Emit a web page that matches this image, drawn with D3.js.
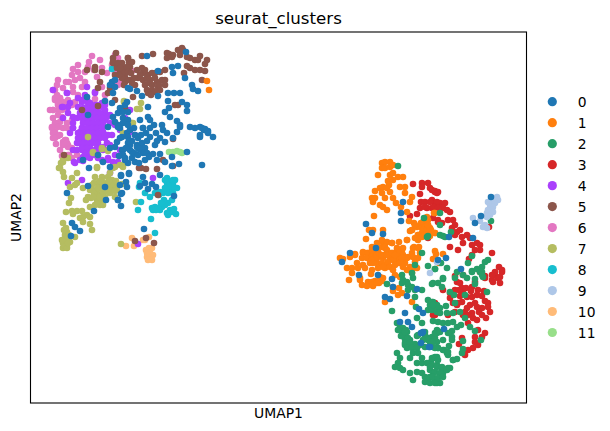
<!DOCTYPE html>
<html>
<head>
<meta charset="utf-8">
<script src="https://cdn.jsdelivr.net/npm/d3@7"></script>
<style>html,body{margin:0;padding:0;background:#fff}svg{display:block}</style>
</head>
<body>
<div id="chart"></div>
<script>
const categories = ["0","1","2","3","4","5","6","7","8","9","10","11"];
const colors = ["#1f77b4","#ff7f0e","#279e68","#d62728","#aa40fc","#8c564b","#e377c2","#b5bd61","#17becf","#aec7e8","#ffbb78","#98df8a"];
const title = "seurat_clusters";
const xLabel = "UMAP1";
const yLabel = "UMAP2";

const cluster0 = [[77,276],[91,266],[96,270],[104,268],[86,261],[97,260],[106,258],[79,255],[91,253],[99,253],[109,255],[67,248],[72,241],[52,243],[94,245],[101,245],[58,235],[79,236],[98,230],[90,227],[95,221],[96,216],[57,217],[74,216],[91,210],[36,210],[75,203],[87,203],[90,197],[63,192],[41,180],[44,176],[49,172],[40,167],
[89,275],[99,273],[112,275],[119,275],[132,273],[146,271],[159,276],[169,276],[174,273],[169,266],[177,270],[89,265],[97,266],[107,265],[119,266],[129,265],[134,261],[142,265],[124,258],[84,256],[99,258],[111,260],[114,255],[92,253],[101,251],[112,250],[122,249],[129,249],[141,246],[156,251],[94,243],[104,241],[114,243],[126,243],[134,241],[141,237],[148,239],[171,238],[98,229],[90,228],[112,226],[129,228],[114,220],[121,219],[109,217],[89,218],[90,209],[87,203],[117,214],[125,216],[143,207],[113,174],
[116,347],[155,351],[141,336],[147,337],[142,330],[154,325],[127,332],[99,314],[106,312],[161,318],[162,314],[167,312],[127,307],[137,310],[143,310],[149,310],[151,301],[111,307],[117,296],[137,302],[138,295],[156,298],[156,292],[134,291],[139,286],[117,286],[119,283],[109,283],[146,282],[149,278],[131,278],[123,278],[112,275],[94,298],[89,295],[92,285],[87,278],[82,286],[149,276],[174,274],[171,275],[164,275],[173,273],[169,268],[177,272],[182,266],
[81,321],[84,323],[79,318],[84,316],[97,315],[82,310],[74,302],[81,300],[56,306],[96,301],[92,291],[97,291],[57,288],[87,290],[97,283],[92,280],[84,281],[87,276],[97,278],
[95,255],[103,250],[107,248],[116,250],[108,240],[118,246],[106,256],[116,262],[101,262],[92,248],[88,247],[97,240],[108,254],[110,268],[115,270],[125,270],[103,275],[98,262],[126,262],[136,270],
[372,201],[370,190],[370,182],[335,179],[341,170],[352,169],[345,155],[319,150],[460,206],[450,187],[444,180],[442,165],[418,166],[415,145],[407,143],[430,134],[311,141],[328,128],[347,128],[361,124],[362,116],[354,106],[359,104],[376,107],[386,114],[374,90],[388,94],[392,90],[369,81],[377,81],[381,76],[391,70],[399,56],[413,74],[390,70],[392,71],[390,60],[398,56]];

const cluster1 = [[351,240],[354,241],[359,241],[351,235],[354,235],[359,236],[362,238],[359,228],[362,230],[367,226],[357,222],[362,223],[347,228],[372,226],[358,218],[369,216],[374,216],[344,212],[349,215],[352,216],[356,215],[359,211],[374,210],[341,205],[344,205],[351,210],[354,205],[362,205],[381,206],[379,201],[342,201],[349,198],[352,196],[356,193],[365,200],[370,196],[376,191],[343,187],[386,176],[390,180],[392,181],[383,180],[378,182],[338,173],[342,173],[352,173],[335,164],[381,173],[379,172],[391,175],[394,176],[397,178],[387,168],[391,170],[396,171],[399,170],[387,163],[404,170],[352,161],[356,161],[361,160],[368,161],[376,163],[341,156],[351,156],[354,155],[383,156],[388,156],[332,150],[336,150],[347,151],[356,151],[366,153],[371,153],[381,150],[324,149],[397,183],[404,190],
[309,145],[312,144],[319,146],[324,148],[332,151],[337,150],[342,151],[347,151],[354,148],[361,150],[366,151],[371,150],[377,146],[382,146],[387,145],[331,145],[336,145],[341,146],[346,145],[352,145],[359,145],[366,145],[372,143],[326,140],[332,138],[339,140],[346,140],[351,138],[357,140],[367,140],[374,140],[316,135],[321,135],[327,135],[334,135],[341,133],[347,135],[354,135],[381,133],[386,135],[321,130],[340,129],[349,126],[329,125],[352,125],[318,123],[329,123],[344,122],[351,122],[337,121],[341,120],[331,118],[336,117],[342,117],[348,120],[362,116],[368,115],[367,108],[371,110],[362,112],[354,101],[381,101],
[403,190],[404,170],[400,173],[404,152],[405,149],[412,149],[402,144],[408,140],[399,167],[404,95],[176,322],[178,313],
[396,186],[392,173],[396,173],[399,175],[397,178],[387,168],[384,165],[391,166],[394,168],[381,173],[384,178],[376,163],[361,160],[354,160],[346,160],[351,163],[354,156],[356,153],[347,151],[342,148],[346,148],[351,148],[356,148],[361,150],[366,155],[369,151],[372,148],[367,146],[376,145],[362,143],[357,141],[351,140],[352,136],[359,136],[364,138],[369,140],[362,133],[364,128],[369,126],[382,155],[387,155],[389,150],[384,141],[379,136],[376,133],[381,130],[372,136],[341,121],[342,118],[346,120],[341,153],[344,145],[341,143],[342,140],[372,155],[364,148],[371,145]];

const cluster2 = [[391,150],[384,138],[397,137],[404,134],[381,130],[382,125],[356,119],[371,128],[372,123],[376,121],[377,118],[371,120],[381,116],[377,113],[384,113],[391,113],[384,106],[402,120],[401,119],[407,120],[397,103],[402,101],[399,98],[406,98],[397,93],[401,93],[406,91],[409,95],[361,92],[385,96],[386,85],[391,80],[366,80],[369,76],[372,75],[371,71],[376,71],[367,73],[374,67],[370,67],[374,64],[379,63],[377,60],[374,58],[381,58],[386,67],[384,59],[394,71],[397,65],[394,68],[401,65],[406,71],[406,61],[394,56],[399,61],[407,55],[389,58],[402,56],
[412,124],[411,116],[419,111],[415,97],[406,97],[401,101],[401,95],[402,98],[409,90],[416,90],[422,90],[429,91],[434,85],[439,76],[444,72],[402,82],[407,81],[412,80],[417,80],[422,81],[426,76],[430,78],[421,72],[421,66],[406,73],[406,70],[401,66],[404,65],[450,63],[432,62],[432,54],[431,50],[422,43],[426,44],[418,57],[413,53],[416,50],[417,48],[406,46],[403,45],[400,41],[406,38],[411,33],[414,33],[417,35],[409,28],[404,23],[409,20],[406,20],[399,26],[412,30],[402,31],[399,33],[401,38],[444,119],[456,111],[434,108],[423,108],[424,100],[441,131],[449,131],
[460,182],[420,171],[412,167],[414,166],[441,147],[437,140],[454,141],[457,143],[441,132],[446,134],[451,136],[451,131],[416,135],[410,140],[404,134],[426,131],[432,128],[412,125],[424,125],[444,124],[452,126],[436,125],[451,128],[409,178],[409,190],[367,237],[393,185],[409,168],[397,167],[396,166],
[375,73],[371,67],[377,65],[374,60],[379,60],[376,55],[381,55],[386,55],[382,50],[387,50],[379,45],[366,50],[369,45],[367,40],[364,36],[369,35],[372,33],[386,40],[391,40],[391,45],[396,40],[401,45],[404,46],[407,43],[407,55],[412,53],[417,51],[422,43],[399,36],[406,36],[411,36],[416,33],[404,31],[409,30],[379,30],[386,31],[382,23],[391,30],[394,26],[397,25],[402,26],[407,25],[412,26],[394,21],[399,20],[404,20],[419,35],[397,63],[404,70],[409,71],[374,71],[387,68],[392,63],[412,63],[421,63],[417,70],[401,61],[404,55]];

const cluster3 = [[424,127],[449,131],[454,127],[464,128],[471,131],[467,125],[462,121],[469,120],[426,121],[429,120],[424,113],[431,115],[441,116],[444,121],[432,110],[441,106],[436,106],[429,107],[446,108],[451,107],[454,102],[457,100],[459,91],[451,95],[446,96],[439,98],[431,101],[426,98],[422,100],[427,100],[434,91],[432,88],[424,91],[417,88],[442,85],[446,83],[437,80],[447,73],[454,70],[444,66],[444,61],[447,58],[442,55],[437,53],[434,48],[431,65],[428,59],[451,66],[402,88],[404,100],[451,88],[412,113],[419,105],[461,123],[419,110],[457,96],
[404,211],[401,213],[406,210],[401,203],[404,200],[409,200],[414,200],[407,197],[412,195],[416,193],[419,191],[401,195],[407,183],[411,180],[417,183],[422,183],[424,178],[421,175],[426,171],[429,173],[424,168],[431,166],[436,168],[439,165],[432,160],[419,156],[427,153],[441,158],[446,160],[449,158],[444,153],[449,153],[438,144],[441,148],[461,150],[468,136],[471,133],[464,131],[454,125],[461,128],[469,126],[432,128],[458,176],
[382,219],[391,220],[397,220],[391,216],[389,209],[399,215],[404,212],[407,211],[390,201],[394,201],[399,201],[406,201],[389,195],[396,195],[403,196],[407,195],[379,187],[386,189],[402,185],[407,181],[397,165],[394,196],[407,94],[404,88],
[435,115],[440,112],[447,113],[444,100],[436,95],[428,113],[453,112],[441,90],[448,91],[437,88],[455,85]];

const cluster4 = [[22,313],[36,310],[56,316],[51,303],[57,301],[64,310],[62,295],[56,296],[66,298],[71,296],[74,290],[59,290],[66,290],[52,285],[57,283],[62,285],[69,285],[74,283],[79,280],[59,278],[66,278],[71,276],[42,275],[51,275],[31,296],[37,296],[42,286],[32,285],
[49,271],[57,273],[66,271],[72,271],[47,265],[56,265],[64,265],[71,266],[77,268],[46,260],[52,258],[59,258],[66,260],[76,260],[42,253],[51,253],[57,253],[66,253],[52,246],[49,243],[44,240],[59,245],[67,245],[77,245],[84,248],[87,241],[37,220],[51,223],[79,230],
[59,293],[64,298],[74,298],[79,288],[54,285],[69,283],[84,278],[64,273],[74,268],[57,268],[49,261],[79,258],[89,273],[94,285],[99,293],[47,305],[54,308],[64,311],[72,253],[64,248],[89,253],[82,241],[122,225],[107,159],
[36,310],[51,301],[56,303],[59,300],[47,296],[52,295],[57,295],[62,296],[66,295],[71,300],[49,290],[54,290],[59,290],[64,290],[69,290],[74,293],[46,285],[51,285],[56,285],[61,285],[66,285],[71,285],[76,286],[52,280],[57,280],[62,280],[67,280],[72,280],[51,275],[56,275],[61,275],[66,275],[71,276],[47,270],[52,270],[57,270],[62,270],[67,270],[72,271],[49,265],[54,265],[59,265],[64,265],[69,265],[74,265],[47,260],[52,260],[57,260],[62,260],[67,260],[51,255],[56,255],[61,253],[66,255],[72,256],[43,241],[52,242],[57,246],[77,243],[39,270],[37,290],[96,270],[99,271],[104,268],[46,253],[54,250],[59,250],[66,248],[71,243],[81,268],[42,275],[42,280],[32,296],[39,300]];

const cluster5 = [[142,264],[132,243],[110,235],[115,234],[126,234],[127,208],[104,162],[115,165],[123,160],[142,237],
[111,347],[122,349],[97,345],[98,341],[99,336],[101,341],[96,335],[82,340],[86,337],[91,335],[89,330],[94,326],[99,323],[106,333],[111,335],[112,330],[117,328],[121,330],[124,330],[107,325],[112,323],[119,323],[126,321],[131,323],[134,323],[114,318],[121,318],[127,316],[134,318],[116,313],[121,313],[129,313],[117,310],[124,311],[134,333],[136,350],[138,349],[142,348],[147,353],[151,355],[152,353],[149,348],[156,346],[159,345],[164,343],[169,347],[167,343],[176,343],[174,339],[159,335],[164,333],[169,333],[174,332],[156,337],[171,323],[136,345],[141,346],[147,298],[102,306],[144,298],[153,330],[129,331],[94,321],[91,326],
[85,350],[82,345],[64,336],[64,333],[71,331],[56,333],[82,341],[91,340],[97,345],[96,336],[86,335],[84,328],[92,331],[97,331],[69,321],[67,315],[79,315],[77,310],[84,303],[67,297],[51,293],[94,295],[99,323],[91,325],[33,248],[108,235],
[87,340],[89,335],[100,330],[103,325],[114,333],[118,320],[104,318],[124,325],[88,328],[93,318],[109,328],[101,320],[116,325],[128,318],[120,308]];

const cluster6 = [[61,347],[58,341],[57,336],[42,334],[47,331],[41,328],[44,323],[49,325],[38,321],[35,321],[27,323],[26,318],[24,313],[32,315],[42,316],[51,316],[54,321],[71,335],[66,326],[76,330],[71,316],[81,338],[84,330],[24,305],[29,305],[32,301],[27,298],[22,293],[27,293],[36,295],[41,298],[22,285],[31,285],[27,280],[36,280],[41,283],[21,275],[32,275],
[24,271],[22,265],[27,267],[35,263],[37,258],[29,253],[38,248],[33,245],[41,245],[84,348],[87,345],[96,333],[101,332],[89,321],[87,318],[29,268],[25,259],[32,261],[41,255],[46,248],[69,343],[47,338],[54,331],[63,333],
[22,313],[29,305],[24,303],[27,300],[22,293],[19,293],[37,303],[36,298],[31,293],[27,288],[31,286],[29,281],[24,280],[27,276],[36,275],[22,270],[24,265],[34,263],[32,258],[37,256],[31,247],[37,248],[42,311],[47,308],[51,303],[64,304],[74,308],[44,301],[26,308],[36,260],[21,276]];

const cluster7 = [[62,251],[71,254],[77,253],[30,240],[32,243],[28,235],[32,231],[33,226],[66,235],[89,238],[92,238],[84,236],[41,225],[46,230],[39,216],[44,218],[46,220],[64,226],[71,226],[77,226],[67,220],[72,221],[81,223],[86,218],[91,219],[52,215],[74,215],[81,215],[86,213],[57,206],[66,210],[72,210],[79,210],[84,206],[59,213],[40,205],[38,200],[55,203],[66,203],[71,203],[64,198],[69,198],[79,230],[59,196],[72,198],[35,191],[41,192],[46,192],[51,192],[42,189],[56,188],[52,186],[59,186],[49,185],[32,180],[52,181],[59,179],[61,173],[35,175],[36,171],[34,168],[37,165],[34,163],[39,161],[32,160],[36,158],[32,155],[44,166],
[62,213],[70,215],[76,218],[74,206],[68,206],[63,210],[78,215],[60,205],[93,302],[110,300],[106,294],[109,294],[102,280],[105,201],[90,159],
[29,235],[32,241],[37,245],[62,250],[71,255],[77,252],[67,248],[92,236],[82,235],[66,236],[57,266],[93,301],[101,280],[92,270],
[33,173],[36,166],[38,168],[33,158],[36,155],[35,163],[37,160],[31,163],[63,220],[67,215],[72,217],[80,219],[84,212],[76,212],[69,222],[78,222],[61,218],[66,199],[74,203],[62,206],[85,222]];

const cluster8 = [[136,225],[144,223],[139,221],[136,220],[142,219],[146,215],[141,215],[137,215],[109,220],[114,210],[119,206],[124,210],[129,211],[132,210],[137,210],[142,210],[141,203],[137,200],[134,198],[131,196],[121,195],[124,196],[122,193],[129,193],[139,193],[136,190],[141,191],[145,189],[137,188],[107,193],[110,201],[120,184],[124,170],[81,334],[108,216],
[134,223],[137,217],[142,223],[134,215],[128,208],[133,203],[130,200],[127,195],[125,193],[143,194]];

const cluster9 = [[466,206],[462,205],[467,203],[461,201],[464,200],[459,198],[462,196],[457,193],[461,193],[456,190],[459,188],[462,191],[456,186],[442,185],[449,182],[454,178],[452,176],[456,175],[457,201],[399,130],[406,141]];

const cluster10 = [[101,165],[118,166],[114,163],[112,163],[95,157],[103,157],[118,155],[115,153],[121,155],[116,150],[119,150],[122,148],[116,146],[120,145],[117,143],[121,143]];

const cluster11 = [[138,251],[142,251],[146,252],[149,251],[151,250]];

const clusters = [cluster0,cluster1,cluster2,cluster3,cluster4,cluster5,cluster6,cluster7,cluster8,cluster9,cluster10,cluster11];
const drawOrder = [10,6,4,7,8,5,3,1,2,9,11,0];

const W = 610, H = 431;
const box = {left:30.5, right:526.5, top:32, bottom:403};
const x = d3.scaleLinear().domain([0,495]).range([box.left+0.5, box.right-0.5]);
const y = d3.scaleLinear().domain([0,371]).range([box.bottom, box.top]);
const color = d3.scaleOrdinal().domain(categories).range(colors);

const svg = d3.select("#chart").append("svg").attr("width",W).attr("height",H)
  .style("font-family","'DejaVu Sans', sans-serif");

const plot = svg.append("g");
drawOrder.forEach(i => {
  plot.append("g").attr("class","cluster-"+categories[i])
    .selectAll("circle").data(clusters[i]).join("circle")
    .attr("cx", d => x(d[0])).attr("cy", d => y(d[1]))
    .attr("r", 3.3).attr("fill", color(categories[i]));
});

svg.append("rect").attr("x",box.left).attr("y",box.top)
  .attr("width",box.right-box.left).attr("height",box.bottom-box.top)
  .attr("fill","none").attr("stroke","#000").attr("stroke-width",1.1);

svg.append("text").attr("x",(box.left+box.right)/2).attr("y",24)
  .attr("text-anchor","middle").attr("font-size",16.67).attr("fill","#000").text(title);
svg.append("text").attr("x",(box.left+box.right)/2).attr("y",418)
  .attr("text-anchor","middle").attr("font-size",13.89).attr("fill","#000").text(xLabel);
svg.append("text").attr("transform",`translate(21,${(box.top+box.bottom)/2}) rotate(-90)`)
  .attr("text-anchor","middle").attr("font-size",13.89).attr("fill","#000").text(yLabel);

const legendY = d3.scalePoint().domain(categories).range([101.7,332.5]);
const legend = svg.append("g").selectAll("g").data(categories).join("g")
  .attr("transform", d => `translate(552.3,${legendY(d)})`);
legend.append("circle").attr("r",4.6).attr("fill", d => color(d));
legend.append("text").attr("x",25.5).attr("y",5).attr("font-size",13.89).attr("fill","#000").text(d => d);
</script>
</body>
</html>
